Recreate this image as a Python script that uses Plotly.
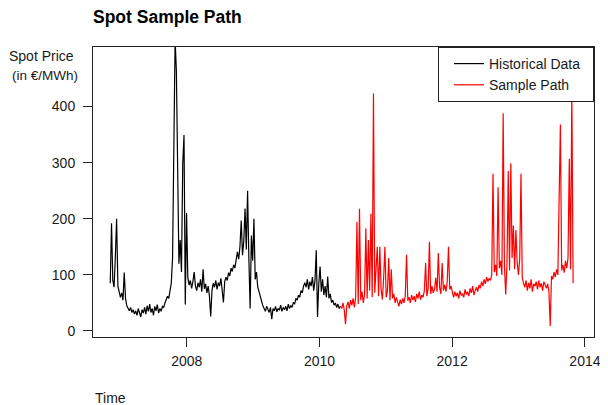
import pandas as pd
import plotly.graph_objects as go

# ---------------- data (weekly readings) ----------------
hist_start = "2006-11-06"
sample_start = "2010-04-26"

hist_values = [
    85, 192, 90, 78, 132, 200, 80, 72, 60, 68, 55, 104, 58, 45, 40, 36, 42, 33, 38, 30,
    36, 28, 40, 33, 25, 38, 32, 42, 30, 45, 35, 48, 33, 40, 28, 44, 36, 47, 32, 40,
    35, 44, 42, 50, 56, 62, 58, 72, 85, 130, 289, 520, 463, 276, 120, 162, 105, 298, 349, 47,
    210, 95, 82, 90, 76, 88, 105, 80, 72, 86, 78, 92, 70, 110, 75, 84, 68, 80, 62, 26,
    72, 85, 78, 90, 74, 86, 80, 94, 72, 51, 88, 96, 90, 104, 98, 112, 106, 118, 112, 124,
    141, 128, 150, 197, 135, 160, 218, 145, 250, 130, 40, 170, 125, 200, 92, 105, 78, 70, 60, 51,
    45, 40, 35, 44, 38, 33, 42, 21, 40, 36, 44, 34, 40, 37, 46, 35, 42, 38, 44, 36,
    48, 40, 45, 42, 51, 48, 58, 55, 64, 60, 72, 68, 80, 86, 78, 92, 74, 88, 80, 96,
    72, 90, 144, 25, 85, 115, 70, 92, 64, 80, 60, 97, 58, 66, 51, 55, 46, 50, 42, 48,
    40, 44,
]

sample_values = [
    44, 40, 50, 38, 12, 45, 52, 40, 55, 46, 58, 42, 60, 194, 48, 218, 55, 70, 50, 65,
    183, 58, 162, 72, 209, 60, 423, 68, 110, 150, 62, 150, 74, 56, 95, 150, 60, 72, 130, 55,
    110, 58, 66, 50, 60, 52, 44, 56, 48, 58, 50, 62, 136, 54, 60, 50, 64, 55, 62, 52,
    66, 58, 70, 56, 64, 60, 72, 121, 62, 76, 159, 66, 80, 68, 74, 95, 70, 139, 78, 66,
    121, 72, 82, 70, 88, 150, 74, 80, 66, 60, 70, 62, 68, 58, 72, 64, 66, 60, 74, 65,
    70, 62, 76, 68, 80, 64, 72, 78, 70, 82, 76, 88, 80, 92, 84, 96, 88, 94, 90, 100,
    280, 105, 118, 98, 256, 112, 125, 100, 388, 115, 65, 120, 285, 108, 299, 130, 188, 110, 180, 122,
    100, 128, 280, 95, 85, 78, 90, 72, 86, 76, 92, 70, 84, 80, 88, 74, 90, 78, 85, 72,
    88, 80, 76, 84, 70, 9, 98, 92, 105, 96, 110, 100, 234, 368, 108, 118, 104, 125, 112, 130,
    307, 110, 430, 85,
]

x_tick_vals = ["2008-01-01", "2010-01-01", "2012-01-01", "2014-01-01"]
x_tick_text = ["2008", "2010", "2012", "2014"]
y_tick_vals = [0, 100, 200, 300, 400]
x_range = ["2006-08-03", "2014-02-20"]
y_range = [-10.7, 506]

hist_dates = pd.date_range(hist_start, periods=len(hist_values), freq="7D")
sample_dates = pd.date_range(sample_start, periods=len(sample_values), freq="7D")

FONT = "Liberation Sans, Arial, sans-serif"
TXT = "#1a1a1a"

# the page body has an 8px default margin; size the figure to compensate
OFF = 8
W, H = 608 - OFF, 405 - OFF

fig = go.Figure()
fig.add_trace(go.Scatter(x=hist_dates, y=hist_values, mode="lines",
                         line=dict(color="black", width=1.2), name="Historical Data\u00a0\u00a0"))
fig.add_trace(go.Scatter(x=sample_dates, y=sample_values, mode="lines",
                         line=dict(color="#ff0000", width=1.2), name="Sample Path"))

fig.update_layout(
    width=W, height=H,
    margin=dict(l=93 - OFF, r=7, t=47 - OFF, b=68, pad=0),
    paper_bgcolor="white", plot_bgcolor="white",
    font=dict(family=FONT, size=14, color=TXT),
    showlegend=True,
    legend=dict(x=1, y=1, xanchor="right", yanchor="top",
                bgcolor="white", bordercolor="#222", borderwidth=1,
                font=dict(family=FONT, size=14, color=TXT),
                indentation=10, tracegroupgap=0),
    title=dict(text="<b>Spot Sample Path</b>", x=(93 - OFF) / W, xanchor="left",
               y=1 - (17 - OFF) / H, yanchor="middle", xref="container", yref="container",
               font=dict(family=FONT, size=17.5, color="black")),
)

fig.update_xaxes(
    type="date", range=x_range, tickvals=x_tick_vals, ticktext=x_tick_text,
    showgrid=False, zeroline=False, showline=True, mirror=True,
    linecolor="#222", linewidth=1, ticks="outside", ticklen=9, tickcolor="#222",
    tickfont=dict(family=FONT, size=14, color=TXT), ticklabelstandoff=2,
)
fig.update_yaxes(
    range=y_range, tickvals=y_tick_vals, showgrid=False, zeroline=False,
    showline=True, mirror=True, linecolor="#222", linewidth=1,
    ticks="outside", ticklen=9, tickcolor="#222",
    tickfont=dict(family=FONT, size=14, color=TXT), ticklabelstandoff=5,
)

fig.add_annotation(text="Spot Price", xref="paper", yref="paper",
                   x=(76 - 93) / 508, y=(337 - 56) / 290, xanchor="right", yanchor="middle",
                   showarrow=False, font=dict(family=FONT, size=14, color=TXT))
fig.add_annotation(text="(in €/MWh)", xref="paper", yref="paper",
                   x=(9 - 93) / 508, y=(337 - 75) / 290, xanchor="left", yanchor="middle",
                   showarrow=False, font=dict(family=FONT, size=13.5, color=TXT))
fig.add_annotation(text="Time", xref="paper", yref="paper",
                   x=0, y=(337 - 398) / 290, xanchor="left", yanchor="middle",
                   showarrow=False, font=dict(family=FONT, size=14, color=TXT))

fig.write_html("out.html")
